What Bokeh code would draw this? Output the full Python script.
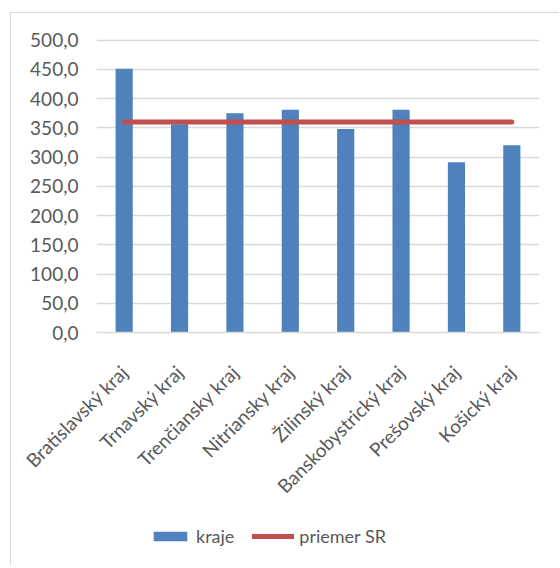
import math
from bokeh.plotting import figure
from bokeh.layouts import column
from bokeh.models import ColumnDataSource, FixedTicker, Legend, LegendItem, Range1d
from bokeh.embed import file_html
from bokeh.resources import INLINE

categories = ["Bratislavský kraj", "Trnavský kraj", "Trenčiansky kraj", "Nitriansky kraj",
              "Žilinský kraj", "Banskobystrický kraj", "Prešovský kraj", "Košický kraj"]
kraje = [451.0, 356.0, 375.0, 381.0, 348.0, 381.0, 291.0, 320.0]
priemer_sr = [360.0, 360.0, 360.0, 360.0, 360.0, 360.0, 360.0, 360.0]
y_ticks = [0, 50, 100, 150, 200, 250, 300, 350, 400, 450, 500]
y_tick_labels = ["0,0", "50,0", "100,0", "150,0", "200,0", "250,0", "300,0", "350,0",
                 "400,0", "450,0", "500,0"]
series_names = ["kraje", "priemer SR"]

source = ColumnDataSource(dict(cat=categories, kraje=kraje, priemer=priemer_sr))

FONT = "Lato"
TXT = "#595959"
GRID = "#d9d9d9"
BAR = "#4f81bd"
LINE = "#c0504d"

p = figure(x_range=categories, y_range=Range1d(0, 504.4), width=548, height=499,
           output_backend="svg", toolbar_location=None,
           min_border_left=85, min_border_right=20, min_border_top=24, min_border_bottom=180)
p.outline_line_color = None
p.border_fill_color = "white"

p.vbar(x="cat", top="kraje", width=0.31, source=source, fill_color=BAR, line_color=None)
p.line(x="cat", y="priemer", source=source, line_color=LINE, line_width=5, line_cap="round")

p.xgrid.grid_line_color = None
p.ygrid.grid_line_color = GRID
p.ygrid.grid_line_width = 1.5
p.ygrid.ticker = FixedTicker(ticks=y_ticks)

p.yaxis.ticker = FixedTicker(ticks=y_ticks)
p.yaxis.major_label_overrides = {t: l for t, l in zip(y_ticks, y_tick_labels)}
p.yaxis.axis_line_color = None
p.yaxis.major_tick_line_color = None
p.yaxis.minor_tick_line_color = None
p.yaxis.major_tick_out = 0
p.yaxis.major_tick_in = 0
p.yaxis.major_label_standoff = 18
p.yaxis.major_label_text_font = FONT
p.yaxis.major_label_text_font_size = "19px"
p.yaxis.major_label_text_color = TXT

p.xaxis.axis_line_color = GRID
p.xaxis.axis_line_width = 1.5
p.xaxis.major_tick_line_color = None
p.xaxis.minor_tick_line_color = None
p.xaxis.major_tick_out = 0
p.xaxis.major_tick_in = 0
p.xaxis.major_label_orientation = math.pi / 4
p.xaxis.major_label_standoff = 36
p.xaxis.major_label_text_font = FONT
p.xaxis.major_label_text_font_size = "19px"
p.xaxis.major_label_text_color = TXT

# legend strip below the chart (hidden renderers only feed the legend glyphs)
q = figure(x_range=p.x_range, y_range=Range1d(0, 504.4), width=548, height=53,
           output_backend="svg", toolbar_location=None,
           x_axis_location=None, y_axis_location=None,
           min_border=0, min_border_left=0, min_border_right=0,
           min_border_top=0, min_border_bottom=0)
q.outline_line_color = None
q.grid.visible = False
lb = q.vbar(x="cat", top="kraje", width=0.31, source=source, fill_color=BAR, line_color=None,
            visible=False)
ll = q.line(x="cat", y="priemer", source=source, line_color=LINE, line_width=5,
            line_cap="round", visible=False)

legend = Legend(items=[LegendItem(label=series_names[0], renderers=[lb]),
                       LegendItem(label=series_names[1], renderers=[ll])],
                orientation="horizontal", location=(53, 18),
                padding=0, margin=0, spacing=18, glyph_width=42, glyph_height=12,
                label_standoff=5, label_text_font=FONT, label_text_font_size="18px",
                label_text_color=TXT, border_line_color=None, background_fill_alpha=0,
                inactive_fill_alpha=0)
q.add_layout(legend, "center")

layout = column(p, q, spacing=0, margin=(12, 0, 0, 10),
                styles={"border-left": "1px solid #d9d9d9", "border-top": "1px solid #d9d9d9"})

open("out.html", "w").write(file_html(layout, INLINE))
